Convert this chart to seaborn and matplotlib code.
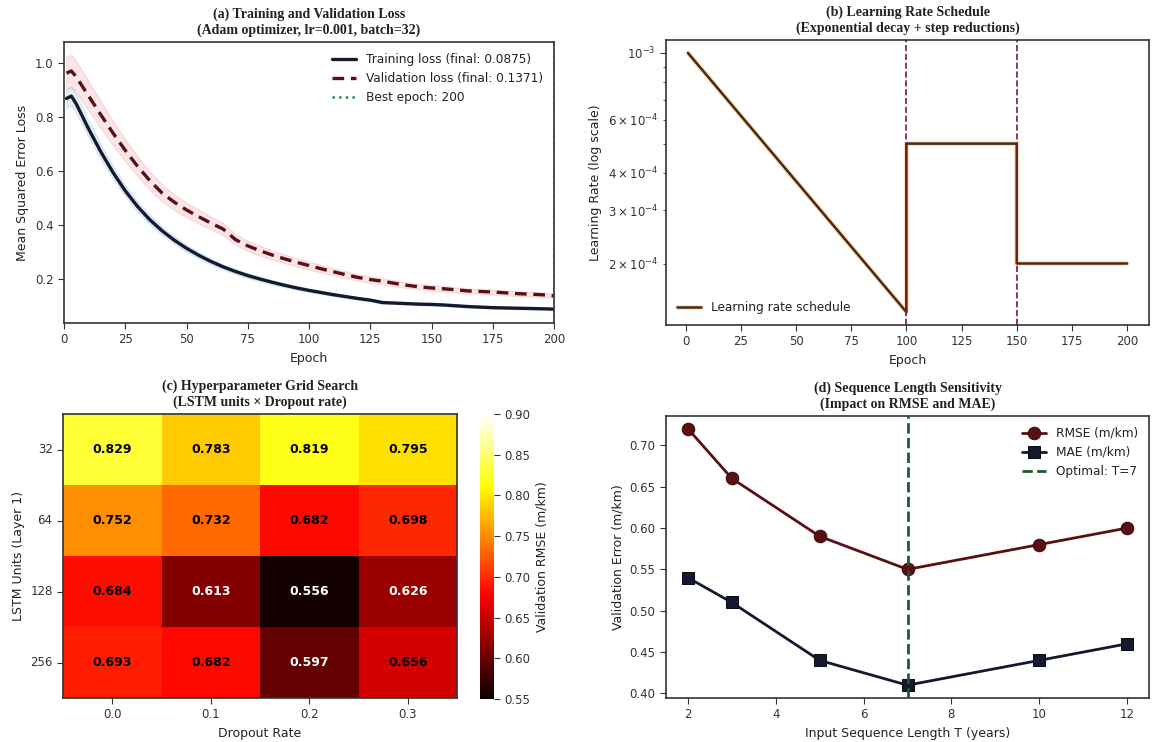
import numpy as np
import pandas as pd
import matplotlib
matplotlib.use("Agg")
import matplotlib.pyplot as plt
import matplotlib.patheffects as pe
import seaborn as sns

# ---------------- data ----------------
# (a) loss curves, sampled every 5 epochs
epochs = [1, 3, 5, 10, 15, 20, 25, 30, 35, 40, 45, 50, 55, 60, 65, 70, 75, 80, 85, 90, 95,
          100, 105, 110, 115, 120, 125, 130, 135, 140, 145, 150, 155, 160, 165, 170, 175,
          180, 185, 190, 195, 200]
train_loss = [0.868, 0.877, 0.848, 0.756, 0.671, 0.594, 0.526, 0.468, 0.419, 0.378, 0.343,
              0.313, 0.287, 0.264, 0.244, 0.227, 0.212, 0.199, 0.187, 0.176, 0.166, 0.157,
              0.149, 0.141, 0.134, 0.127, 0.121, 0.112, 0.110, 0.108, 0.106, 0.105, 0.103,
              0.100, 0.097, 0.095, 0.093, 0.092, 0.091, 0.090, 0.089, 0.0875]
val_loss = [0.962, 0.970, 0.948, 0.878, 0.808, 0.740, 0.676, 0.617, 0.564, 0.518, 0.484,
            0.455, 0.430, 0.406, 0.384, 0.345, 0.322, 0.304, 0.288, 0.274, 0.261, 0.249,
            0.237, 0.226, 0.215, 0.205, 0.197, 0.191, 0.183, 0.176, 0.170, 0.166, 0.163,
            0.159, 0.155, 0.153, 0.151, 0.148, 0.145, 0.143, 0.141, 0.1371]
train_spread = [0.035, 0.035, 0.034, 0.030, 0.027, 0.024, 0.021, 0.019, 0.017, 0.015, 0.014,
                0.013, 0.012, 0.011, 0.010, 0.009, 0.009, 0.008, 0.008, 0.007, 0.007, 0.006,
                0.006, 0.006, 0.005, 0.005, 0.005, 0.005, 0.004, 0.004, 0.004, 0.004, 0.004,
                0.004, 0.004, 0.004, 0.004, 0.004, 0.004, 0.004, 0.004, 0.004]
val_spread = [0.060, 0.060, 0.058, 0.054, 0.050, 0.045, 0.041, 0.037, 0.034, 0.031, 0.029,
              0.027, 0.026, 0.024, 0.023, 0.020, 0.019, 0.018, 0.017, 0.016, 0.015, 0.015,
              0.014, 0.013, 0.013, 0.012, 0.012, 0.011, 0.011, 0.010, 0.010, 0.010, 0.010,
              0.009, 0.009, 0.009, 0.009, 0.009, 0.009, 0.009, 0.008, 0.008]
best_epoch = 200

# (b) learning-rate schedule breakpoints
lr_epochs = [1, 100, 100, 150, 150, 200]
lr_values = [1.0e-3, 1.38e-4, 5.0e-4, 5.0e-4, 2.0e-4, 2.0e-4]
lr_steps = [100, 150]

# (c) grid search
lstm_units = ["32", "64", "128", "256"]
dropout_rates = ["0.0", "0.1", "0.2", "0.3"]
rmse_grid = [[0.829, 0.783, 0.819, 0.795],
             [0.752, 0.732, 0.682, 0.698],
             [0.684, 0.613, 0.556, 0.626],
             [0.693, 0.682, 0.597, 0.656]]

# (d) sequence length sensitivity
seq_len = [2, 3, 5, 7, 10, 12]
rmse_seq = [0.72, 0.66, 0.59, 0.55, 0.58, 0.60]
mae_seq = [0.54, 0.51, 0.44, 0.41, 0.44, 0.46]
optimal_T = 7

# ---------------- style ----------------
sns.set_style("ticks")
plt.rcParams.update({
    "font.family": ["DejaVu Sans"],
    "axes.edgecolor": "#333333",
    "axes.linewidth": 1.2,
    "xtick.labelsize": 8.5,
    "ytick.labelsize": 8.5,
    "axes.labelsize": 9,
    "legend.fontsize": 8.7,
    "xtick.major.size": 4,
    "ytick.major.size": 4,
    "xtick.color": "#333333",
    "ytick.color": "#333333",
    "axes.labelcolor": "#222222",
    "text.color": "#222222",
})
title_kw = dict(fontfamily="Liberation Serif", fontweight="bold", fontsize=10)

W, H = 1152, 742
fig = plt.figure(figsize=(W / 100, H / 100), dpi=100)


def px_axes(left, right, top, bottom):
    return fig.add_axes([left / W, 1 - bottom / H, (right - left) / W, (bottom - top) / H])


ax_a = px_axes(64, 554, 42, 323)
ax_b = px_axes(666, 1149, 40, 325)
ax_c = px_axes(63, 457, 414, 698)
cax = px_axes(480, 494, 414, 699)
ax_d = px_axes(666, 1149, 416, 698)

# ---------------- (a) loss curves ----------------
ep = np.array(epochs)
tr = np.array(train_loss)
va = np.array(val_loss)
trs = np.array(train_spread)
vas = np.array(val_spread)
ax_a.fill_between(ep, tr - trs, tr + trs, color="#4a90c8", alpha=0.15, lw=1)
ax_a.fill_between(ep, va - vas, va + vas, color="#e04050", alpha=0.13, lw=1)
sns.lineplot(x=ep, y=tr, ax=ax_a, color="#141a2e", lw=2.4,
             label=f"Training loss (final: {train_loss[-1]:.4f})")
sns.lineplot(x=ep, y=va, ax=ax_a, color="#5a0f14", lw=2.4, linestyle=(0, (3.5, 2)),
             label=f"Validation loss (final: {val_loss[-1]:.4f})")
ax_a.axvline(best_epoch, color="#2e8b3a", ls=":", lw=1.8, label=f"Best epoch: {best_epoch}")
ax_a.set_xlim(0, 200)
ax_a.set_xticks(range(0, 201, 25))
ax_a.set_xlabel("Epoch")
ax_a.set_ylabel("Mean Squared Error Loss")
ax_a.set_title("(a) Training and Validation Loss\n(Adam optimizer, lr=0.001, batch=32)", **title_kw)
ax_a.legend(loc="upper right", frameon=False)

# ---------------- (b) learning rate ----------------
sns.lineplot(x=lr_epochs, y=lr_values, ax=ax_b, estimator=None, sort=False,
             color="#4a2a0e", lw=1.8, label="Learning rate schedule",
             path_effects=[pe.Stroke(linewidth=3.6, foreground="#f5b060", alpha=0.4), pe.Normal()])
for s in lr_steps:
    ax_b.axvline(s, color="#7a1a3a", ls="--", lw=1.2)
ax_b.set_yscale("log")
ax_b.set_xticks(range(0, 201, 25))
ax_b.set_xlabel("Epoch")
ax_b.set_ylabel("Learning Rate (log scale)")
ax_b.set_title("(b) Learning Rate Schedule\n(Exponential decay + step reductions)", **title_kw)
ax_b.legend(loc="lower left", frameon=False)

# ---------------- (c) grid search heatmap ----------------
grid = pd.DataFrame(rmse_grid, index=lstm_units, columns=dropout_rates)
sns.heatmap(grid, ax=ax_c, cbar_ax=cax, cmap="hot", vmin=0.55, vmax=0.90,
            annot=True, fmt=".3f", annot_kws={"fontsize": 9, "fontweight": "bold"},
            cbar_kws={"label": "Validation RMSE (m/km)"})
flat = [v for row in rmse_grid for v in row]
for txt, v in zip(ax_c.texts, flat):
    txt.set_color("white" if v < 0.65 else "black")
for sp in ax_c.spines.values():
    sp.set_visible(True)
    sp.set_color("#333333")
    sp.set_linewidth(1.2)
ax_c.tick_params(axis="y", rotation=0)
ax_c.tick_params(length=4)
ax_c.set_xlabel("Dropout Rate")
ax_c.set_ylabel("LSTM Units (Layer 1)")
ax_c.set_title("(c) Hyperparameter Grid Search\n(LSTM units × Dropout rate)", **title_kw)
cax.set_yticks(np.arange(0.55, 0.901, 0.05))
cax.tick_params(labelsize=8.5)
cax.yaxis.label.set_size(9)

# ---------------- (d) sequence length ----------------
sns.lineplot(x=seq_len, y=rmse_seq, ax=ax_d, color="#5a0f14", lw=2, marker="o",
             markersize=9, markeredgecolor="#3a0a0a", label="RMSE (m/km)")
sns.lineplot(x=seq_len, y=mae_seq, ax=ax_d, color="#141a2e", lw=2, marker="s",
             markersize=8, markeredgecolor="#0a0d1a", label="MAE (m/km)")
ax_d.axvline(optimal_T, color="#1e5a30", ls="--", lw=2, label=f"Optimal: T={optimal_T}")
ax_d.set_xticks([2, 4, 6, 8, 10, 12])
ax_d.set_xlabel("Input Sequence Length T (years)")
ax_d.set_ylabel("Validation Error (m/km)")
ax_d.set_title("(d) Sequence Length Sensitivity\n(Impact on RMSE and MAE)", **title_kw)
ax_d.legend(loc="upper right", frameon=False)

fig.savefig("out.png", dpi=100)
